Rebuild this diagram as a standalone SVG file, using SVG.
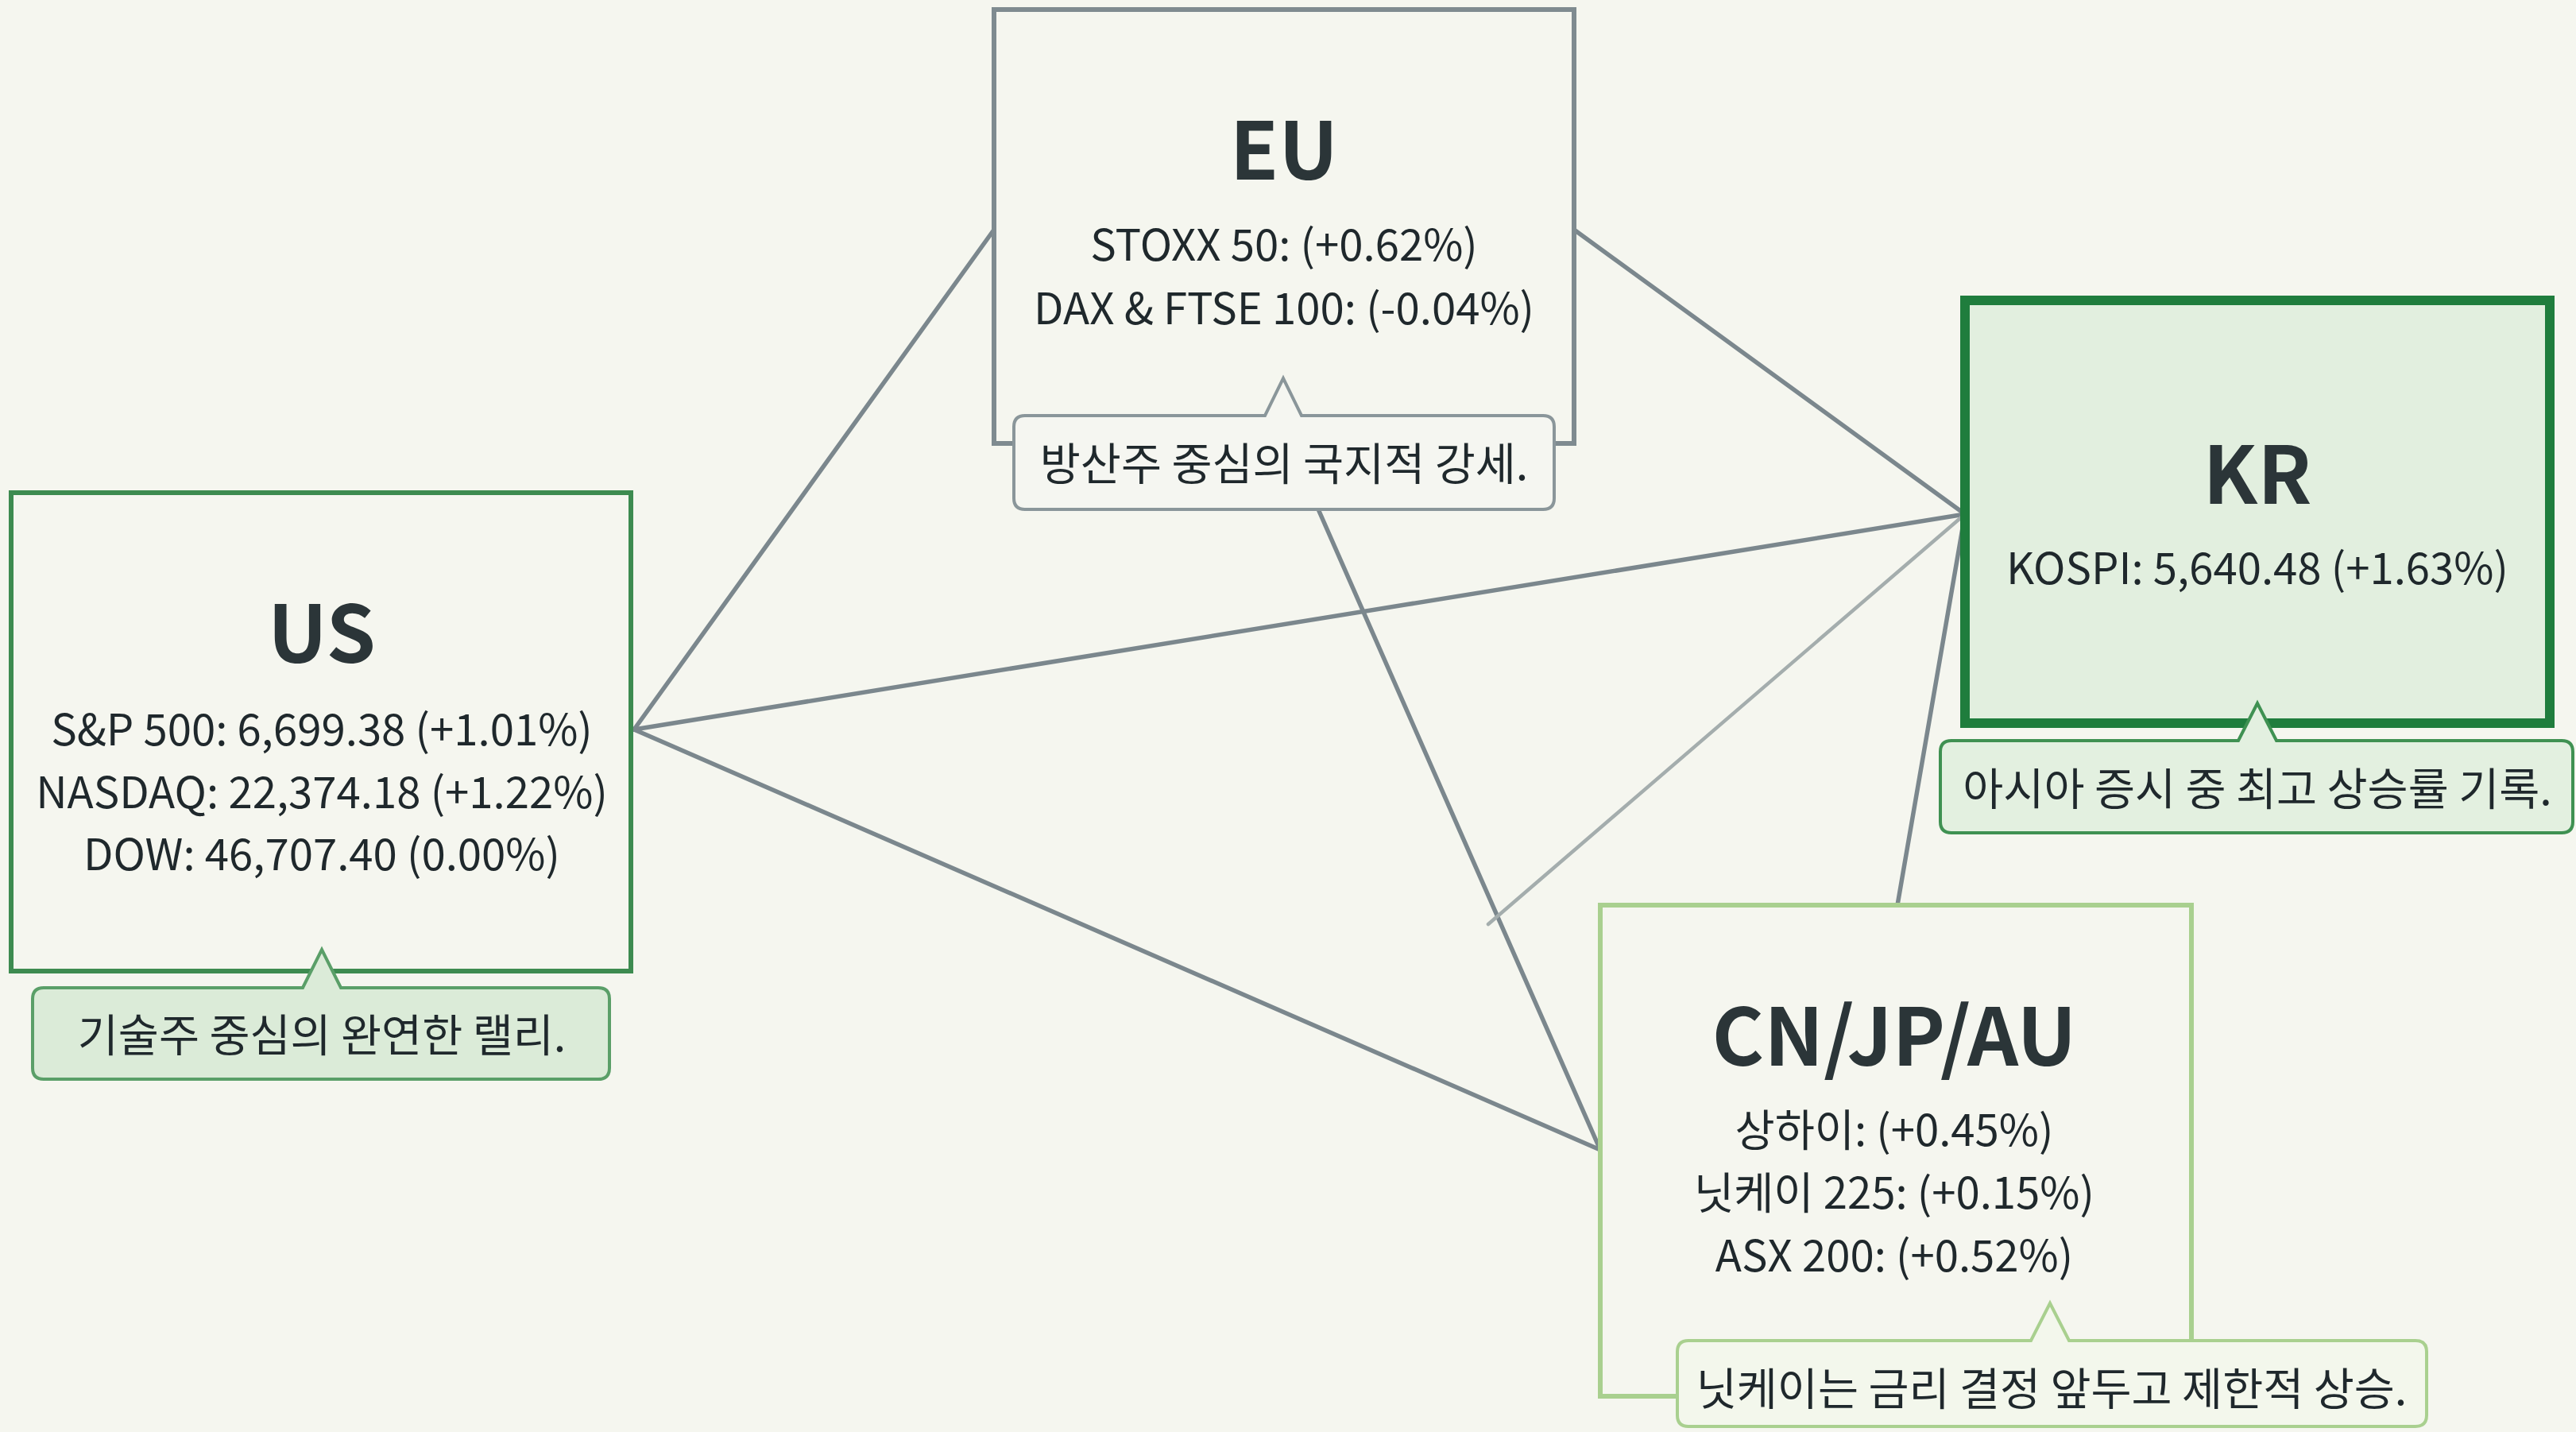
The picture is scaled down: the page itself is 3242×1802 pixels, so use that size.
<svg xmlns="http://www.w3.org/2000/svg" width="3242" height="1802" viewBox="0 0 3242 1802">
<style>
.t{font-family:"Noto Sans CJK KR","Noto Sans",sans-serif;fill:#1f282c;text-anchor:middle;dominant-baseline:central}
.title{font-size:100px;font-weight:700;fill:#2b3538}
.body{font-size:54.5px}
.note{font-size:55.5px}
.conn{stroke:#7b878d;stroke-width:5.5;fill:none;stroke-linecap:round}
</style>
<rect width="3242" height="1802" fill="#f5f6ef"/>
<g id="connectors">
<line class="conn" x1="798" y1="918" x2="1251" y2="289"/>
<line class="conn" x1="798" y1="918" x2="2473" y2="647"/>
<line class="conn" x1="798" y1="918" x2="2014" y2="1447"/>
<line class="conn" x1="1660" y1="643" x2="2014" y2="1447"/>
<line class="conn" x1="1981" y1="289" x2="2473" y2="647"/>
<line class="conn" x1="2473" y1="647" x2="1873" y2="1163" style="stroke:#a4adad;stroke-width:4.5"/>
<line class="conn" x1="2473" y1="647" x2="2388" y2="1139"/>
</g>
<g id="node-eu">
<rect x="1251" y="12" width="730" height="546" fill="#f5f6ef" stroke="#7f8b90" stroke-width="6"/>
<text class="t title" x="1616" y="182">EU</text>
<text class="t body" x="1616" y="304">STOXX 50: (+0.62%)</text>
<text class="t body" x="1616" y="384">DAX &amp; FTSE 100: (-0.04%)</text>
<path d="M1290,523 H1592 L1615,476 L1638,523 H1942 Q1956,523 1956,537 V627 Q1956,641 1942,641 H1290 Q1276,641 1276,627 V537 Q1276,523 1290,523 Z" fill="#f5f6f1" stroke="#8a969a" stroke-width="4"/>
<text class="t note" x="1616" y="580">방산주 중심의 국지적 강세.</text>
</g>
<g id="node-us">
<rect x="14" y="620" width="780" height="602" fill="#f5f6ef" stroke="#3d8b50" stroke-width="6"/>
<text class="t title" x="405" y="790">US</text>
<text class="t body" x="405" y="914">S&amp;P 500: 6,699.38 (+1.01%)</text>
<text class="t body" x="405" y="993">NASDAQ: 22,374.18 (+1.22%)</text>
<text class="t body" x="405" y="1071">DOW: 46,707.40 (0.00%)</text>
<path d="M55,1243 H381 L405,1195 L429,1243 H753 Q767,1243 767,1257 V1344 Q767,1358 753,1358 H55 Q41,1358 41,1344 V1257 Q41,1243 55,1243 Z" fill="#dbebd8" stroke="#5a9f68" stroke-width="4"/>
<text class="t note" x="405" y="1299">기술주 중심의 완연한 랠리.</text>
</g>
<g id="node-kr">
<rect x="2473" y="378" width="736" height="532" fill="#e2efdf" stroke="#1f7d3d" stroke-width="12"/>
<text class="t title" x="2841" y="590">KR</text>
<text class="t body" x="2841" y="711">KOSPI: 5,640.48 (+1.63%)</text>
<path d="M2456,932 H2817 L2841,885 L2865,932 H3224 Q3238,932 3238,946 V1034 Q3238,1048 3224,1048 H2456 Q2442,1048 2442,1034 V946 Q2442,932 2456,932 Z" fill="#e3f0e0" stroke="#3f9152" stroke-width="4"/>
<text class="t note" x="2841" y="989">아시아 증시 중 최고 상승률 기록.</text>
</g>
<g id="node-asia">
<rect x="2014" y="1139" width="744" height="618" fill="#f5f6ef" stroke="#a9d08f" stroke-width="6"/>
<text class="t title" x="2384" y="1297">CN/JP/AU</text>
<text class="t body" x="2384" y="1418">상하이: (+0.45%)</text>
<text class="t body" x="2384" y="1497">닛케이 225: (+0.15%)</text>
<text class="t body" x="2384" y="1576">ASX 200: (+0.52%)</text>
<path d="M2125,1687 H2556 L2580,1640 L2604,1687 H3040 Q3054,1687 3054,1701 V1781 Q3054,1795 3040,1795 H2125 Q2111,1795 2111,1781 V1701 Q2111,1687 2125,1687 Z" fill="#f3f7ec" stroke="#a9d08f" stroke-width="4"/>
<text class="t note" x="2582" y="1744">닛케이는 금리 결정 앞두고 제한적 상승.</text>
</g>
</svg>
